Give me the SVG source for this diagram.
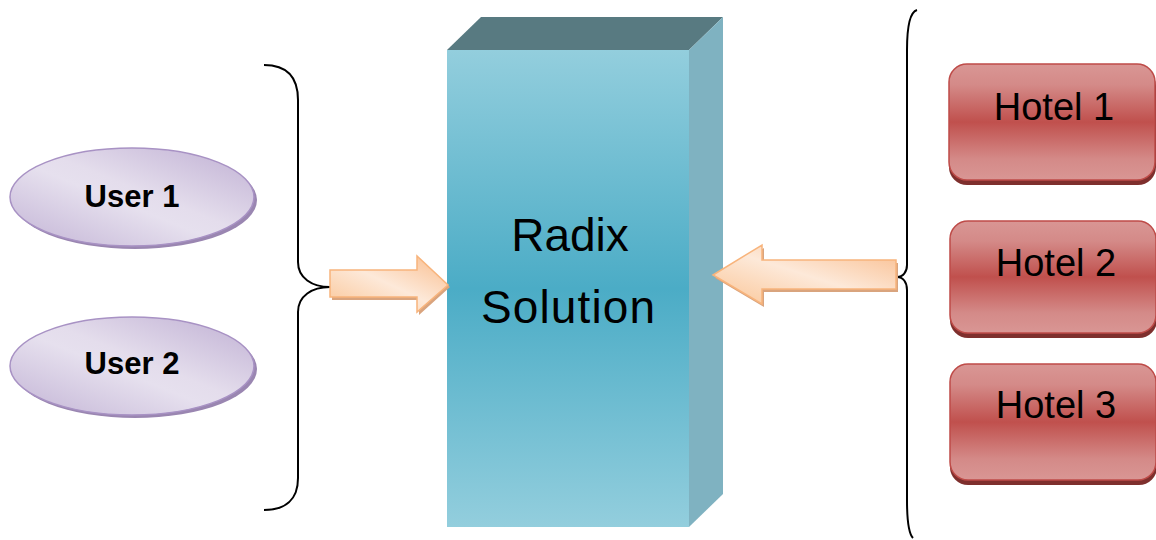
<svg xmlns="http://www.w3.org/2000/svg" width="1156" height="540" viewBox="0 0 1156 540">
<defs>
<linearGradient id="gFront" x1="0" y1="0" x2="0" y2="1">
<stop offset="0" stop-color="#93CEDD"/>
<stop offset="0.5" stop-color="#4BACC6"/>
<stop offset="1" stop-color="#93CEDD"/>
</linearGradient>
<linearGradient id="gUser" x1="0" y1="1" x2="1" y2="0">
<stop offset="0" stop-color="#C2B3D5"/>
<stop offset="0.45" stop-color="#E6E0EE"/>
<stop offset="0.55" stop-color="#E4DDEC"/>
<stop offset="1" stop-color="#BFAFD3"/>
</linearGradient>
<linearGradient id="gHotel" x1="0" y1="0" x2="0" y2="1">
<stop offset="0" stop-color="#D99694"/>
<stop offset="0.18" stop-color="#D48A88"/>
<stop offset="0.5" stop-color="#C0504D"/>
<stop offset="0.82" stop-color="#D48A88"/>
<stop offset="1" stop-color="#D99694"/>
</linearGradient>
<linearGradient id="gArrow" x1="0" y1="1" x2="1" y2="0">
<stop offset="0" stop-color="#FAC596"/>
<stop offset="0.5" stop-color="#FDE9D9"/>
<stop offset="1" stop-color="#F9BC8C"/>
</linearGradient>
<style>
.brace{fill:none;stroke:#000;stroke-width:2}
.ushadow{fill:#9A86B1}
.user{fill:url(#gUser);stroke:#A892C4;stroke-width:1.5}
.utext{font-family:"Liberation Sans",Arial,sans-serif;font-weight:bold;font-size:31px;fill:#000;text-anchor:middle}
.hshadow{fill:#7E2F2D}
.hotel{fill:url(#gHotel);stroke:#BE4B48;stroke-width:1.5}
.htext{font-family:"Liberation Sans",Arial,sans-serif;font-size:38px;fill:#000;text-anchor:middle}
.ashadow{fill:#D9A47E}
.arrow{fill:url(#gArrow);stroke:#F8B47C;stroke-width:1.5}
.rtext{font-family:"Liberation Sans",Arial,sans-serif;font-size:46px;fill:#000;text-anchor:middle}
</style>
</defs>
<rect width="1156" height="540" fill="#fff"/>

<g id="radix">
<polygon points="447,50 481,17 723,17 689,50" fill="#587A81"/>
<polygon points="689,50 723,17 723,494 689,527" fill="#7FB2C1"/>
<rect x="447" y="50" width="242" height="477" fill="url(#gFront)"/>
<text class="rtext" x="570" y="251">Radix</text>
<text class="rtext" x="568" y="323" textLength="174">Solution</text>
</g>

<g id="user1">
<ellipse class="ushadow" cx="135" cy="200" rx="122" ry="49"/>
<ellipse class="user" cx="132" cy="197" rx="122" ry="49"/>
<text class="utext" x="132" y="207">User 1</text>
</g>
<g id="user2">
<ellipse class="ushadow" cx="135" cy="369" rx="122" ry="49"/>
<ellipse class="user" cx="132" cy="366" rx="122" ry="49"/>
<text class="utext" x="132" y="374">User 2</text>
</g>

<g id="hotel1">
<rect class="hshadow" x="949" y="68" width="207" height="117" rx="18"/>
<rect class="hotel" x="949" y="64" width="206" height="116" rx="18"/>
<text class="htext" x="1054" y="120">Hotel 1</text>
</g>
<g id="hotel2">
<rect class="hshadow" x="950" y="225" width="207" height="113" rx="18"/>
<rect class="hotel" x="950" y="221" width="206" height="112" rx="18"/>
<text class="htext" x="1056" y="276">Hotel 2</text>
</g>
<g id="hotel3">
<rect class="hshadow" x="950" y="368" width="207" height="117" rx="18"/>
<rect class="hotel" x="950" y="364" width="206" height="116" rx="18"/>
<text class="htext" x="1056" y="418">Hotel 3</text>
</g>

<g id="connectors">
<path class="brace" d="M264 65 C285 65 298 75 298 100 L298 262 C298 278 312 287 330 287 C312 287 298 296 298 312 L298 478 C298 500 285 510 264 510"/>
<path class="brace" d="M917 10 C910 12 907 25 907 50 L907 265 C907 272 903 277 897 277 C903 277 907 282 907 290 L907 500 C907 525 910 535 913 538"/>
<polygon class="ashadow" points="332,273 419,273 419,259 450,287 419,315 419,300 332,300"/>
<polygon class="arrow" points="330,270 417,270 417,256 448,285 417,312 417,297 330,297"/>
<polygon class="ashadow" points="715,278 764,248 764,263 898,263 898,292 764,292 764,307"/>
<polygon class="arrow" points="713,275 762,245 762,260 896,260 896,289 762,289 762,304"/>
</g>
</svg>
